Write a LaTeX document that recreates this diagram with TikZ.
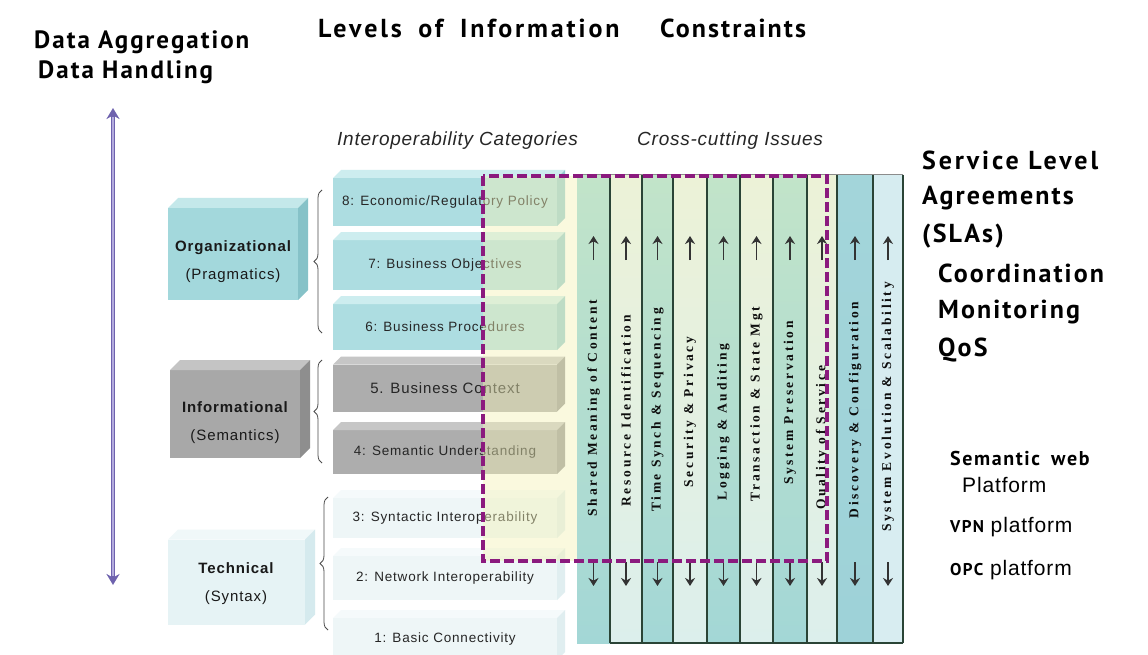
\documentclass[tikz,border=0pt]{standalone}
\usepackage{fontspec}
\setmainfont{Liberation Sans}
\newfontfamily\hand[LetterSpace=8]{PT Sans}
\newfontfamily\handw[LetterSpace=11]{PT Sans}
\newfontfamily\arialw[LetterSpace=6]{Liberation Sans}
\newfontfamily\arialc[LetterSpace=4]{Liberation Sans}
\newfontfamily\colfont[LetterSpace=20]{Liberation Serif}
\usetikzlibrary{arrows.meta,decorations.pathreplacing}

\definecolor{orgF}{HTML}{A3D8DC}\definecolor{orgT}{HTML}{C4E8EA}\definecolor{orgS}{HTML}{86C2C8}
\definecolor{infF}{HTML}{A8A8A8}\definecolor{infT}{HTML}{C4C4C4}\definecolor{infS}{HTML}{8E8E8E}
\definecolor{tecF}{HTML}{E6F3F5}\definecolor{tecT}{HTML}{F0F8F9}\definecolor{tecS}{HTML}{D5EAEE}
\definecolor{lorgF}{HTML}{ADDDE1}\definecolor{lorgT}{HTML}{CDEDEF}\definecolor{lorgS}{HTML}{93CBD0}
\definecolor{linfF}{HTML}{ADADAD}\definecolor{linfT}{HTML}{C6C6C6}\definecolor{linfS}{HTML}{969696}
\definecolor{ltecF}{HTML}{EEF6F7}\definecolor{ltecT}{HTML}{F5FAFB}\definecolor{ltecS}{HTML}{E0EEF0}
\definecolor{dashP}{HTML}{8B1A7E}
\definecolor{arrP}{HTML}{6E62AE}\definecolor{arrL}{HTML}{B3ABDD}
\definecolor{colLine}{HTML}{2A4436}
\definecolor{cAt}{HTML}{C2E4C9}\definecolor{cAb}{HTML}{A3D7D6}
\definecolor{cBt}{HTML}{ECF2D7}\definecolor{cBb}{HTML}{DCEFEC}
\definecolor{cCt}{HTML}{A3D5DA}\definecolor{cCb}{HTML}{9ED2D8}
\definecolor{cDt}{HTML}{D6ECF0}\definecolor{cDb}{HTML}{D8EDF1}
\definecolor{ovl}{HTML}{F4F2B8}

\newcommand\slabfaces[4]{%
  \fill[#3] (#1.north west) -- ([shift={(#2,-#2)}]#1.north west) -- ([shift={(#2,-#2)}]#1.north east) -- (#1.north east) -- cycle;
  \fill[#4] (#1.north east) -- ([shift={(#2,-#2)}]#1.north east) -- ([shift={(#2,-#2)}]#1.south east) -- (#1.south east) -- cycle;}

\begin{document}
\begin{tikzpicture}[x=1pt,y=-1pt,
  face/.style={draw=none,inner sep=0pt,outer sep=0pt},
  laybox/.style={face,minimum width=224pt,font=\arialw\fontsize{13.5}{15}\selectfont,text=black!85},
  grpbox/.style={face,minimum width=130pt},
  grptxt/.style={align=center,font=\arialw\fontsize{15}{28}\selectfont,text=black!90},
  colbox/.style={face,minimum height=468pt},
  coltxt/.style={rotate=90,font=\colfont\bfseries\fontsize{13.5}{15}\selectfont,text=black!95,inner sep=0pt},
  colarr/.style={-{Stealth[length=8pt,width=10pt]},line width=1.6pt,black!80},
  hdr/.style={anchor=west,font=\hand\bfseries\fontsize{26}{28}\selectfont,inner sep=0pt},
  hdrw/.style={hdr,font=\handw\bfseries\fontsize{26}{28}\selectfont},
  ital/.style={anchor=west,font=\arialc\itshape\fontsize{19}{22}\selectfont,text=black!85,inner sep=0pt},
  plat/.style={anchor=west,inner sep=0pt,font=\arialc\fontsize{21}{24}\selectfont},
  brc/.style={decorate,decoration={brace,amplitude=8pt},line width=0.8pt,black!70},
  dashbox/.style={draw=dashP,line width=3.5pt,dash pattern=on 10pt off 4pt}
]
\path[use as bounding box,fill=white] (0,0) rectangle (1148,655);

% headers
\node[hdr,font=\hand\bfseries\fontsize{25}{28}\selectfont] (hDA) at (34,42) {Data Aggregation};
\node[hdr,font=\hand\bfseries\fontsize{25}{28}\selectfont] (hDH) at (38,72) {Data Handling};
\node[hdrw] (hLI) at (318,28) {Levels\; of\; Information};
\node[hdr] (hCO) at (660,28) {Constraints};
\node[ital] (hIC) at (337,141) {Interoperability Categories};
\node[ital] (hCI) at (637,141) {Cross-cutting Issues};

% vertical double arrow
\coordinate (vtop) at (113,108);
\coordinate (vbot) at (113,585);
\draw[line width=4.5pt,arrP,{Stealth[length=11pt,width=13pt]}-{Stealth[length=11pt,width=13pt]}] (vtop) -- (vbot);
\draw[line width=1.5pt,arrL,shorten <=9pt,shorten >=9pt] (vtop) -- (vbot);

% group boxes
\node[grpbox,fill=orgF,minimum height=92pt] (gOrg) at (233,254) {};
\slabfaces{gOrg}{10}{orgT}{orgS}
\node[grptxt] (gOrgT) at (233,262) {\bfseries Organizational\\(Pragmatics)};
\node[grpbox,fill=infF,minimum height=88pt] (gInf) at (235,414) {};
\slabfaces{gInf}{10}{infT}{infS}
\node[grptxt] (gInfT) at (235,423) {\bfseries Informational\\(Semantics)};
\node[grpbox,fill=tecF,minimum width=137pt,minimum height=85pt] (gTec) at (236.5,582) {};
\slabfaces{gTec}{10}{tecT}{tecS}
\node[grptxt] (gTecT) at (236,584) {\bfseries Technical\\(Syntax)};

% braces
\draw[brc] (322,333) -- (322,190);
\draw[brc] (322,463) -- (322,360);
\draw[brc] (328,630) -- (328,497);

% layer boxes
\node[laybox,fill=lorgF,minimum height=48pt] (L8) at (445,202) {8: Economic/Regulatory Policy};
\slabfaces{L8}{8}{lorgT}{lorgS}
\node[laybox,fill=lorgF,minimum height=50pt] (L7) at (445,265) {7: Business Objectives};
\slabfaces{L7}{8}{lorgT}{lorgS}
\node[laybox,fill=lorgF,minimum height=46pt] (L6) at (445,327) {6: Business Procedures};
\slabfaces{L6}{8}{lorgT}{lorgS}
\node[laybox,fill=linfF,minimum height=47pt,font=\arialw\fontsize{15}{17}\selectfont] (L5) at (445,388) {5. Business Context};
\slabfaces{L5}{8}{linfT}{linfS}
\node[laybox,fill=linfF,minimum height=44pt] (L4) at (445,452) {4: Semantic Understanding};
\slabfaces{L4}{8}{linfT}{linfS}
\node[laybox,fill=ltecF,minimum height=40pt] (L3) at (445,518) {3: Syntactic Interoperability};
\slabfaces{L3}{8}{ltecT}{ltecS}
\node[laybox,fill=ltecF,minimum height=44pt] (L2) at (445,578) {2: Network Interoperability};
\slabfaces{L2}{8}{ltecT}{ltecS}
\node[laybox,fill=ltecF,minimum height=42pt] (L1) at (445,639) {1: Basic Connectivity};
\slabfaces{L1}{8}{ltecT}{ltecS}

% yellow overlay inside dashed region (left part)
\fill[ovl,opacity=0.45] (483,176) rectangle (577,561);

% columns
\node[colbox,minimum width=33pt,top color=cAt,bottom color=cAb] (c1) at (593.5,409) {};
\node[colbox,minimum width=32pt,top color=cBt,bottom color=cBb] (c2) at (626,409) {};
\node[colbox,minimum width=31pt,top color=cAt,bottom color=cAb] (c3) at (657.5,409) {};
\node[colbox,minimum width=34pt,top color=cBt,bottom color=cBb] (c4) at (690,409) {};
\node[colbox,minimum width=33pt,top color=cAt,bottom color=cAb] (c5) at (723.5,409) {};
\node[colbox,minimum width=33pt,top color=cBt,bottom color=cBb] (c6) at (756.5,409) {};
\node[colbox,minimum width=34pt,top color=cAt,bottom color=cAb] (c7) at (790,409) {};
\node[colbox,minimum width=30pt,top color=cBt,bottom color=cBb] (c8) at (822,409) {};
\node[colbox,minimum width=36pt,top color=cCt,bottom color=cCb] (c9) at (855,409) {};
\node[colbox,minimum width=30pt,top color=cDt,bottom color=cDb] (c10) at (888,409) {};

\foreach \c in {c2,c3,c4,c5,c6,c7,c8,c9,c10}{
  \draw[colLine,line width=1.5pt] (\c.north west) -- (\c.south west);
}
\draw[colLine,line width=1.5pt] (c10.north east) -- (c10.south east);
\draw[colLine,line width=1.5pt] (c2.south west) -- (c10.south east);
\draw[black!45,line width=1pt] (c1.north west) -- (c10.north east);

% column labels
\node[coltxt] (t1) at (593.5,408) {Shared Meaning of Content};
\node[coltxt] (t2) at (626,411) {Resource Identification};
\node[coltxt] (t3) at (657.5,410) {Time Synch \& Sequencing};
\node[coltxt] (t4) at (690,412) {Security \& Privacy};
\node[coltxt] (t5) at (723.5,422) {Logging \& Auditing};
\node[coltxt] (t6) at (756.5,404) {Transaction \& State Mgt};
\node[coltxt] (t7) at (790,403) {System Preservation};
\node[coltxt] (t8) at (822,438) {Quality of Service};
\node[coltxt] (t9) at (855,410) {Discovery \& Configuration};
\node[coltxt] (t10) at (888,407) {System Evolution \& Scalability};

% column arrows
\foreach \c in {c1,c2,c3,c4,c5,c6,c7,c8,c9,c10}{
  \draw[colarr] ([shift={(0,85)}]\c.north) -- ([shift={(0,61)}]\c.north);
  \draw[colarr] ([shift={(0,387)}]\c.north) -- ([shift={(0,411)}]\c.north);
}

% dashed highlight
\draw[dashbox] (483,176) rectangle (827,561);

% right side texts
\node[hdrw] (rSL) at (922,160) {Service Level};
\node[hdr] (rAG) at (922,198) {Agreements};
\node[hdr] (rSA) at (922,236) {(SLAs)};
\node[hdr] (rCO) at (938,273) {Coordination};
\node[hdr] (rMO) at (938,312) {Monitoring};
\node[hdr] (rQO) at (938,350) {QoS};

\node[hdr,font=\hand\bfseries\fontsize{20}{22}\selectfont] (pSW) at (950,458) {Semantic\;\;web};
\node[plat] (pPL) at (962,485) {Platform};
\node[plat] (pVP) at (950,527) {{\hand\bfseries\fontsize{17}{20}\selectfont VPN} platform};
\node[plat] (pOP) at (950,570) {{\hand\bfseries\fontsize{17}{20}\selectfont OPC} platform};
\end{tikzpicture}
\end{document}
